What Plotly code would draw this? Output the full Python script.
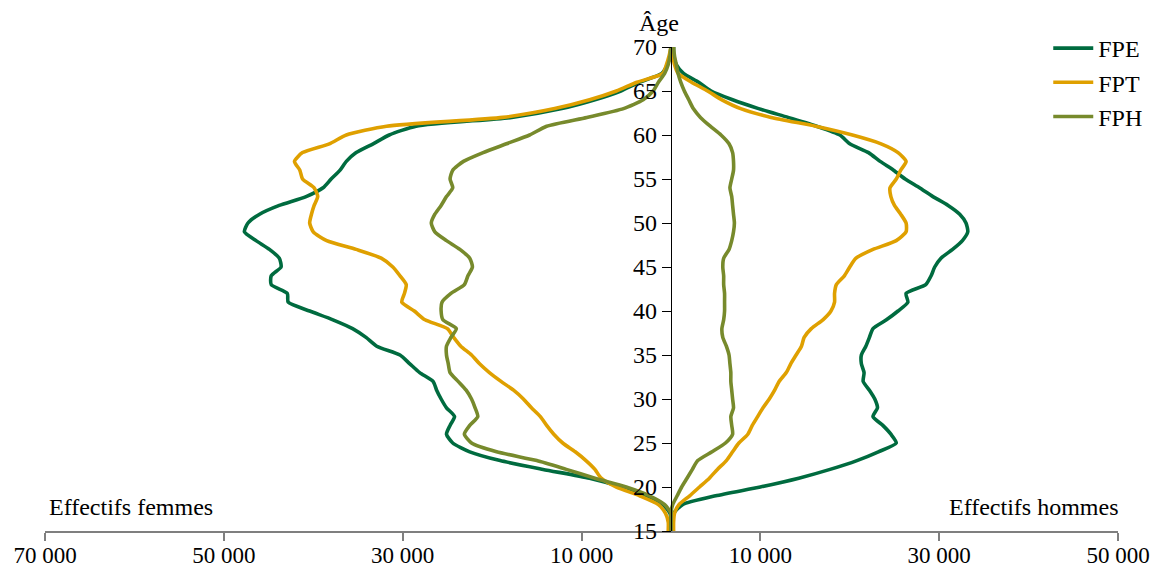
import plotly.graph_objects as go

ages = list(range(15, 71))

# Women (effectifs femmes), ages 15..70
fpe_femmes = [0, 0, 100, 900, 2700, 5500, 9100, 14300, 19100, 22500, 24400, 25100, 24700, 24200,
              25100, 25700, 26200, 26600, 28100, 29200, 30300, 32900, 34100, 35600, 37800, 40400,
              42800, 42900, 44700, 44700, 43600, 43800, 44900, 46400, 47700, 47300, 46000, 43800,
              40800, 38900, 38000, 37000, 36300, 35200, 33300, 31500, 28500, 17800, 12200, 8500,
              5600, 3500, 1000, 400, 100, 0]
fpt_femmes = [300, 300, 600, 1400, 3500, 6100, 7800, 8500, 9500, 10700, 12100, 13100, 13900, 14600,
              15600, 16500, 17600, 19000, 20300, 21400, 22300, 23500, 24300, 25000, 27500, 28700,
              30100, 29800, 29600, 30300, 31100, 32400, 35200, 38500, 40000, 40400, 40200, 39900,
              39500, 39900, 41200, 41500, 42100, 41200, 38200, 36300, 31800, 18800, 13000, 9100,
              6100, 3800, 900, 500, 200, 0]
fph_femmes = [0, 0, 0, 700, 2400, 5000, 8500, 11700, 15000, 19500, 22300, 23100, 22500, 21600,
              21900, 22300, 22900, 23800, 24700, 24900, 25100, 25100, 24600, 24000, 25500, 25700,
              25600, 24600, 23100, 22700, 22200, 22500, 23600, 25100, 26400, 26800, 26400, 25700,
              25100, 24400, 24700, 24400, 23200, 21000, 18400, 15800, 13900, 9400, 5300, 3100,
              2000, 1400, 700, 300, 100, 0]

# Men (effectifs hommes), ages 15..70
fpe_hommes = [0, 0, 300, 1300, 5000, 10000, 14300, 17800, 20800, 23200, 25200, 24600, 23700, 22600,
              23100, 22800, 22200, 21500, 21600, 21300, 21300, 21800, 22200, 22600, 24100, 25400,
              26500, 26300, 28500, 29100, 29500, 30200, 31500, 32600, 33200, 33000, 32300, 31000,
              29300, 27800, 26200, 24900, 23400, 22100, 20000, 18900, 16300, 13100, 9800, 6900,
              4500, 3100, 1400, 600, 300, 300]
fpt_hommes = [300, 300, 400, 900, 2100, 3200, 4300, 5200, 6200, 6900, 7600, 8600, 9100, 9700,
              10300, 11000, 11600, 12100, 12900, 13400, 14000, 14600, 14900, 15700, 17000, 17900,
              18300, 18300, 18500, 19400, 20000, 20700, 22600, 25200, 26300, 26300, 25700, 25000,
              24600, 24500, 25200, 25700, 26300, 25400, 23500, 20300, 16200, 11200, 7800, 5700,
              4100, 2300, 800, 400, 200, 0]
fph_hommes = [0, 0, 0, 200, 700, 1200, 1800, 2400, 3000, 4600, 6100, 6900, 6800, 6700,
              7000, 6900, 6800, 6700, 6700, 6600, 6500, 6200, 5800, 5700, 5900, 6000,
              6000, 6000, 5900, 5900, 5800, 5900, 6500, 6800, 7000, 7100, 7000, 6900,
              6800, 6600, 6800, 7000, 7000, 6900, 6500, 5600, 4400, 3300, 2500, 2000,
              1500, 1100, 800, 600, 400, 300]

series_names = ["FPE", "FPT", "FPH"]
series_colors = ["#006B3F", "#DFA000", "#778A2C"]
femmes = [fpe_femmes, fpt_femmes, fph_femmes]
hommes = [fpe_hommes, fpt_hommes, fph_hommes]

x_tickvals = [-70000, -50000, -30000, -10000, 10000, 30000, 50000]
x_ticktext = ["70 000", "50 000", "30 000", "10 000", "10 000", "30 000", "50 000"]
y_tickvals = list(range(15, 71, 5))

FONT = "Liberation Serif"
FS = 24

fig = go.Figure()
for name, color, f, h in zip(series_names, series_colors, femmes, hommes):
    fig.add_trace(go.Scatter(
        x=[-v for v in f], y=ages, mode="lines", name=name, legendgroup=name,
        showlegend=False,
        line=dict(color=color, width=3.6, shape="spline", smoothing=0.6)))
    fig.add_trace(go.Scatter(
        x=h, y=ages, mode="lines", name=name, legendgroup=name,
        showlegend=True,
        line=dict(color=color, width=3.6, shape="spline", smoothing=0.6)))

W, H = 1164, 572
M_L, M_R, M_T, M_B = 45, 46, 8, 41
PLOT_TOP = 47                      # pixel row of age 70
paper_h = H - M_T - M_B
y_dom_top = (H - M_B - PLOT_TOP) / paper_h
legend_top = (H - M_B - 26) / paper_h

xmin, xmax = -70000, 50000
fig.update_layout(
    width=W, height=H,
    margin=dict(l=M_L, r=M_R, t=M_T, b=M_B, autoexpand=False),
    paper_bgcolor="white", plot_bgcolor="white",
    font=dict(family=FONT, size=FS, color="black"),
    showlegend=True,
    legend=dict(x=0.935, y=legend_top, xanchor="left", yanchor="top",
                bgcolor="rgba(0,0,0,0)", font=dict(size=FS, family=FONT),
                tracegroupgap=0, itemwidth=40),
    xaxis=dict(range=[xmin, xmax], tickvals=x_tickvals, ticktext=x_ticktext,
               showline=True, linecolor="#7f7f7f", linewidth=1.5,
               ticks="outside", ticklen=8, tickcolor="#7f7f7f", tickwidth=1.5,
               ticklabelstandoff=-5, tickfont=dict(size=23),
               showgrid=False, zeroline=False, fixedrange=True, automargin=False),
    yaxis=dict(range=[15, 70], tickvals=y_tickvals, anchor="free",
               domain=[0, y_dom_top],
               position=(0 - xmin) / (xmax - xmin),
               showline=True, linecolor="black", linewidth=1.2,
               ticks="outside", ticklen=9, tickcolor="black", tickwidth=1.2,
               showgrid=False, zeroline=False, fixedrange=True, automargin=False),
    annotations=[
        dict(text="Âge", x=0, xref="x", y=y_dom_top, yref="paper", xanchor="right",
             yanchor="bottom", xshift=10, yshift=9, showarrow=False,
             font=dict(size=FS, family=FONT)),
        dict(text="Effectifs femmes", x=0, xref="paper", y=17.7, yref="y",
             xanchor="left", yanchor="middle", xshift=2, showarrow=False,
             font=dict(size=FS, family=FONT)),
        dict(text="Effectifs hommes", x=1, xref="paper", y=17.7, yref="y",
             xanchor="right", yanchor="middle", xshift=3, showarrow=False,
             font=dict(size=FS, family=FONT)),
    ],
)

fig.write_html("out.html", config={"displayModeBar": False})

# remove the default page margin so the figure sits at the window's top-left corner
with open("out.html", encoding="utf-8") as fh:
    html = fh.read()
html = html.replace("<head>", "<head><style>html,body{margin:0;padding:0;}</style>", 1)
with open("out.html", "w", encoding="utf-8") as fh:
    fh.write(html)
